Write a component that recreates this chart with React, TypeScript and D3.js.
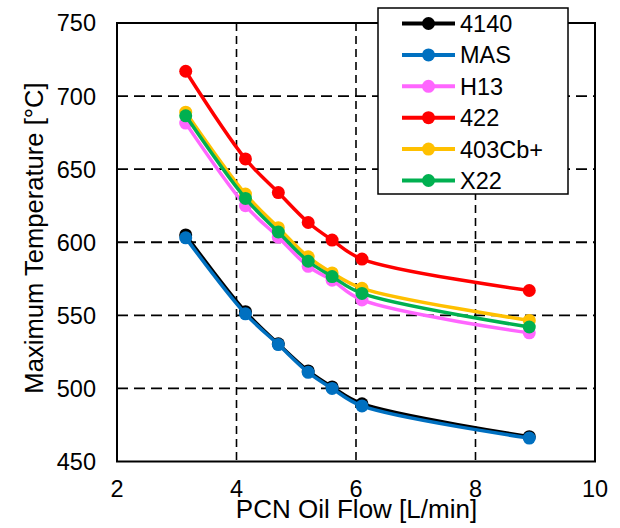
import React from "react";
import * as d3 from "d3";

const flows = [3.15, 4.15, 4.7, 5.2, 5.6, 6.1, 8.9];
const seriesNames = ["4140", "MAS", "H13", "422", "403Cb+", "X22"];
const v4140 = [605, 552.5, 530.5, 512, 501, 489.5, 467];
const vMAS = [603, 551, 530, 511, 500, 488, 466];
const vH13 = [681.5, 625, 603.5, 583.5, 574, 560.5, 538];
const v422 = [717, 657, 634, 613.5, 601.5, 588.5, 567];
const v403 = [689, 633, 610, 590, 579, 568.5, 546.5];
const vX22 = [686.5, 630, 607, 587, 576.5, 565, 542];
const seriesValues = [v4140, vMAS, vH13, v422, v403, vX22];
const seriesColors = ["#000000", "#0070C0", "#FF66FF", "#FF0000", "#FFC000", "#00B050"];
const xTicks = [2, 4, 6, 8, 10];
const yTicks = [450, 500, 550, 600, 650, 700, 750];

const W = 620;
const H = 528;
const left = 117;
const right = 595;
const top = 23;
const bottom = 461.5;
const font = "'Liberation Sans', Arial, sans-serif";

export default function App() {
  const x = d3.scaleLinear().domain([2, 10]).range([left, right]);
  const y = d3.scaleLinear().domain([450, 750]).range([bottom, top]);
  const line = d3
    .line<[number, number]>()
    .x((d) => x(d[0]))
    .y((d) => y(d[1]))
    .curve(d3.curveCatmullRom.alpha(0.5));

  const legX = 378;
  const legY = 8;
  const legW = 190;
  const legH = 186;
  const rowY = (i: number) => legY + 15.5 + i * 31.4;

  return (
    <svg
      width={W}
      height={H}
      style={{ position: "absolute", left: 0, top: 0, background: "#fff" }}
      fontFamily={font}
    >
      <rect x={0} y={0} width={W} height={H} fill="#fff" />
      {yTicks
        .filter((t) => t !== 450 && t !== 750)
        .map((t) => (
          <line
            key={"gy" + t}
            x1={left}
            x2={right}
            y1={y(t)}
            y2={y(t)}
            stroke="#000"
            strokeWidth={1.8}
            strokeDasharray="11,6"
          />
        ))}
      {xTicks
        .filter((t) => t !== 2 && t !== 10)
        .map((t) => (
          <line
            key={"gx" + t}
            x1={x(t)}
            x2={x(t)}
            y1={top}
            y2={bottom}
            stroke="#000"
            strokeWidth={1.6}
            strokeDasharray="8,5"
          />
        ))}
      <rect
        x={left}
        y={top}
        width={right - left}
        height={bottom - top}
        fill="none"
        stroke="#000"
        strokeWidth={2}
      />
      {yTicks.map((t) => (
        <text
          key={"ty" + t}
          x={96}
          y={y(t)}
          dy="0.36em"
          textAnchor="end"
          fontSize={23.5}
          fill="#000"
        >
          {t}
        </text>
      ))}
      {xTicks.map((t) => (
        <text
          key={"tx" + t}
          x={x(t)}
          y={497}
          textAnchor="middle"
          fontSize={23.5}
          fill="#000"
        >
          {t}
        </text>
      ))}
      <text x={356.5} y={518} textAnchor="middle" fontSize={26} fill="#000">
        PCN Oil Flow [L/min]
      </text>
      <text
        transform={`translate(42.5, 238) rotate(-90)`}
        textAnchor="middle"
        fontSize={25.6}
        fill="#000"
      >
        Maximum Temperature [°C]
      </text>
      {seriesValues.map((vals, si) => {
        const pts = flows.map((f, i) => [f, vals[i]] as [number, number]);
        return (
          <g key={"s" + si}>
            <path
              d={line(pts) || ""}
              fill="none"
              stroke={seriesColors[si]}
              strokeWidth={3.5}
              strokeLinejoin="round"
            />
            {pts.map((p, i) => (
              <circle
                key={i}
                cx={x(p[0])}
                cy={y(p[1])}
                r={6.5}
                fill={seriesColors[si]}
              />
            ))}
          </g>
        );
      })}
      <rect
        x={legX}
        y={legY}
        width={legW}
        height={legH}
        fill="#fff"
        stroke="#000"
        strokeWidth={1.5}
      />
      {seriesNames.map((n, i) => (
        <g key={"l" + i}>
          <line
            x1={402}
            x2={455}
            y1={rowY(i)}
            y2={rowY(i)}
            stroke={seriesColors[i]}
            strokeWidth={4}
          />
          <circle cx={428.5} cy={rowY(i)} r={6.5} fill={seriesColors[i]} />
          <text x={460} y={rowY(i)} dy="0.36em" fontSize={23.5} fill="#000">
            {n}
          </text>
        </g>
      ))}
    </svg>
  );
}
